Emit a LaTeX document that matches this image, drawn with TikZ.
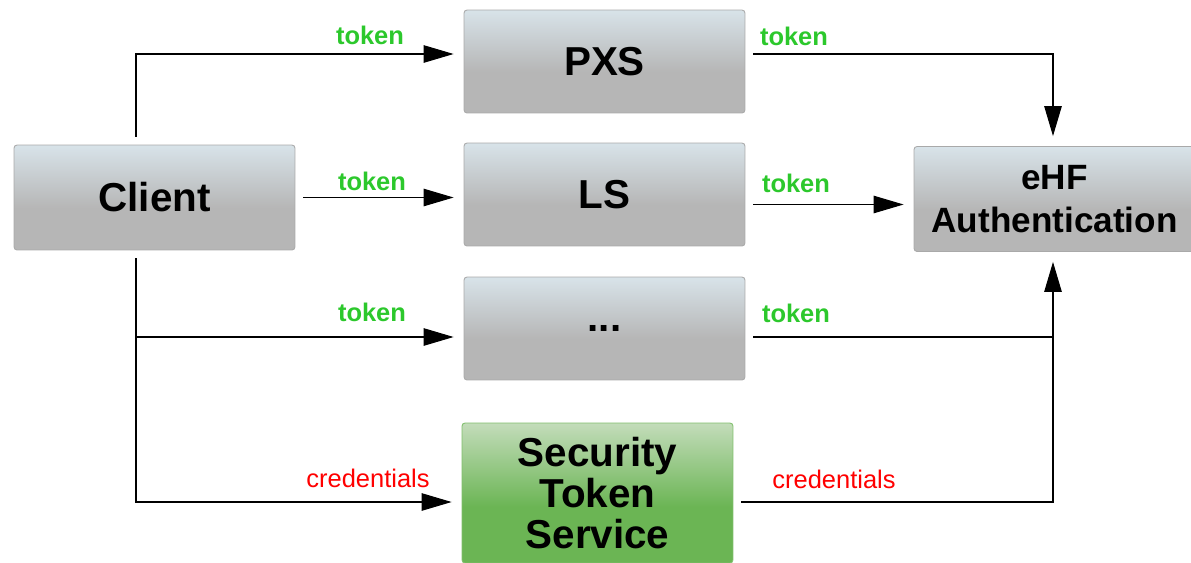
\documentclass[tikz,border=0pt]{standalone}
\usepackage{fontspec}
\setmainfont{Liberation Sans}
\usepackage{xcolor}
\usepackage{tikz}
\usetikzlibrary{arrows.meta}

\definecolor{boxtop}{HTML}{D8E3E9}
\definecolor{boxbot}{HTML}{B6B6B6}
\definecolor{boxline}{HTML}{A9A9A9}
\definecolor{ststop}{HTML}{C3DCBA}
\definecolor{stsbot}{HTML}{6BB554}
\definecolor{stsline}{HTML}{7FBF6B}
\definecolor{tokgreen}{RGB}{44,200,44}
\definecolor{credred}{RGB}{255,0,0}

\pgfdeclareverticalshading{graybox}{100bp}{color(0bp)=(boxbot); color(25bp)=(boxbot); color(45bp)=(boxbot); color(75bp)=(boxtop); color(100bp)=(boxtop)}
\pgfdeclareverticalshading{greenbox}{100bp}{color(0bp)=(stsbot); color(25bp)=(stsbot); color(45bp)=(stsbot); color(75bp)=(ststop); color(100bp)=(ststop)}

\begin{document}
\begin{tikzpicture}[x=0.02cm, y=-0.02cm,
    svc/.style={rectangle, rounded corners=0.06cm, draw=boxline, line width=0.5pt,
        shading=graybox, inner sep=0pt, minimum width=5.62cm, minimum height=2.06cm,
        align=center, font=\bfseries\fontsize{23}{26}\selectfont},
    wire/.style={draw=black, line width=0.6pt, shorten <=0.16cm},
    arr/.style={wire, -{Triangle[length=0.6cm,width=0.35cm]}, shorten >=0.2cm},
    tok/.style={text=tokgreen, font=\bfseries\fontsize{14.5}{16}\selectfont},
    cred/.style={text=credred, font=\fontsize{14.5}{16}\selectfont}]
    \useasboundingbox (0,0) rectangle (1191,562);

    % boxes
    \node[svc, minimum height=2.1cm] (client) at (154.5,197.5) {Client};
    \node[svc] (pxs) at (604.5,61.5) {PXS};
    \node[svc] (ls) at (604.5,194.5) {LS};
    \node[svc] (dots) at (604.5,328.5) {...};
    \node[svc, minimum height=2.1cm, font=\bfseries\fontsize{20}{24.4}\selectfont] (ehf) at (1054.5,199) {eHF\\Authentication};
    \node[svc, shading=greenbox, draw=stsline, minimum width=5.42cm, minimum height=2.8cm,
        font=\bfseries\fontsize{23}{23.5}\selectfont] (sts) at (597.5,493) {Security\\Token\\Service};

    \coordinate (ctop) at (136,54);
    \coordinate (cmid) at (136,337);
    \coordinate (cbot) at (136,502);
    \coordinate (etop) at (1053,54);
    \coordinate (ebot) at (1053,502);

    % client side
    \draw[arr] (client.north -| ctop) -- (ctop) -- (pxs.west |- ctop);
    \draw[arr] (client.east) -- (ls.west |- client.east);
    \draw[arr] (client.south -| cbot) -- (cbot) -- (sts.west |- cbot);
    \draw[arr, shorten <=0pt] (cmid) -- (dots.west |- cmid);

    % authentication side
    \draw[arr] (pxs.east |- etop) -- (etop) -- (ehf.north -| etop);
    \draw[arr] ([yshift=-0.2cm]ls.east) -- ([yshift=-0.2cm]ls.east -| ehf.west);
    \draw[wire] (dots.east |- cmid) -- (cmid -| ebot);
    \draw[arr] (sts.east |- ebot) -- (ebot) -- (ehf.south -| ebot);

    % labels
    \node[tok] (t1) at (370,35) {token};
    \node[tok] (t2) at (372,181) {token};
    \node[tok] (t3) at (372,312) {token};
    \node[cred] (c1) at (368,478) {credentials};
    \node[tok] (t4) at (794,36) {token};
    \node[tok] (t5) at (796,183) {token};
    \node[tok] (t6) at (796,313) {token};
    \node[cred] (c2) at (834,479) {credentials};
\end{tikzpicture}
\end{document}
